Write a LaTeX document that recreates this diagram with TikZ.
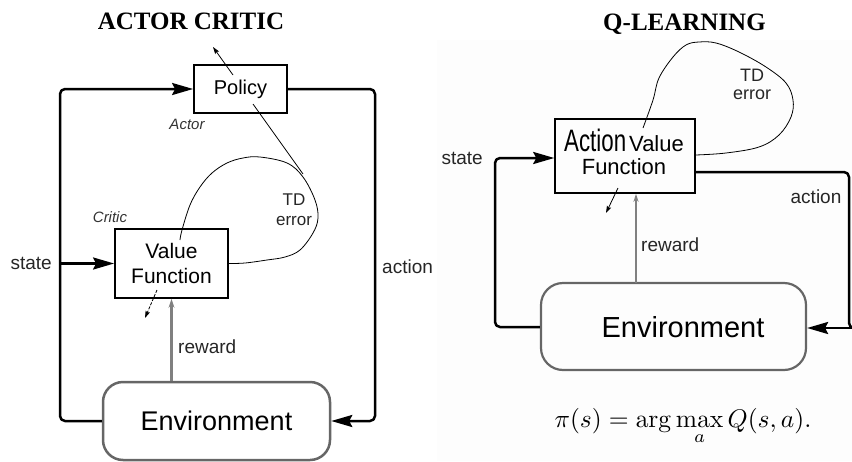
\documentclass[tikz,border=0pt]{standalone}
\usepackage[no-math]{fontspec}
\setmainfont{Liberation Sans}
\newfontfamily\titlefont{Liberation Serif}
\usepackage{graphicx}
\usetikzlibrary{arrows.meta}

\begin{document}
\begin{tikzpicture}[x=1pt,y=-1pt,
  bigtip/.tip={Stealth[length=21pt,width=12pt,inset=3pt]},
  smalltip/.tip={Stealth[length=7pt,width=4.5pt,inset=1pt]},
  loopline/.style={line width=2.5pt, line join=round, rounded corners=5pt},
  box/.style={draw, line width=1.8pt, inner sep=0pt, align=center},
  envbox/.style={draw=black!60, line width=2.5pt, rounded corners=20pt, inner sep=0pt},
  thinline/.style={line width=0.8pt},
  rewardline/.style={draw=black!50},
  lbl/.style={font=\fontsize{19}{19}\selectfont, text=black!85, inner sep=0pt},
  tdlbl/.style={align=center, inner sep=0pt, text=black!85},
  role/.style={font=\fontsize{15}{15}\selectfont\itshape, text=black!80, inner sep=0pt},
  heading/.style={font=\titlefont\bfseries\fontsize{25}{25}\selectfont, anchor=base, inner sep=0pt}
]
\useasboundingbox (0,0) rectangle (852,461);
% faint backdrop of the right panel
\fill[black!0.8] (437,40) rectangle (852,461);

% ---------------- Actor-critic ----------------
\node[heading] (tAC) at (191,29) {ACTOR CRITIC};

\node[box, minimum width=93pt, minimum height=48pt,
      font=\fontsize{20}{20}\selectfont] (policy) at (240.5,89) {Policy};
\node[box, minimum width=113pt, minimum height=69pt,
      font=\fontsize{21}{25}\selectfont] (vf) at (171.5,263.5) {Value\\Function};
\node[envbox, minimum width=227pt, minimum height=78pt,
      font=\fontsize{27}{27}\selectfont] (envL) at (216.5,421) {Environment};

\node[role] (actor) at (187,124) {Actor};
\node[role] (critic) at (110,217) {Critic};

\coordinate (lt) at (60,89);
\coordinate (lb) at (60,421);
\coordinate (ls) at (60,263.5);
\coordinate (rt) at (375,89);
\coordinate (rb) at (375,421);

% outer loop: environment -> policy -> environment
\draw[loopline, -bigtip] (envL.west) -- (lb) -- (lt) -- (policy.west);
\draw[loopline, -bigtip] (policy.east) -- (rt) -- (rb) -- (envL.east);
\draw[line width=2.5pt, -bigtip] (ls) -- (vf.west);

\node[lbl, anchor=east] (stateL) at (52,263) {state};
\node[lbl, anchor=west] (actionL) at (382,267) {action};

% reward from the environment to the critic
\draw[rewardline, line width=2.8pt, -{Stealth[length=9pt,width=6pt]}]
  (envL.north -| vf.south) -- (vf.south);
\node[lbl, anchor=west] (rewardL) at (178,347) {reward};

% TD error loop of the critic
\draw[thinline] plot[smooth, tension=0.6] coordinates {
  (180,240) (182,230) (190,205) (200,187) (212,173) (227,163) (243,158)
  (260,157) (287,163) (303,177) (315,200) (318,218) (313,233) (300,250)
  (285,257) (267,260) (245,263) (vf.east)};
\coordinate (tdLp) at (303,174);
\coordinate (polIn) at (253,104);
\draw[thinline] (tdLp) -- (polIn);
\node[tdlbl, font=\fontsize{17}{20}\selectfont] (tdL) at (294,210) {TD\\error};

% adjustment arrows leaving the actor and the critic
\coordinate (polOut) at (213,47);
\coordinate (polSrc) at (233,75);
\draw[thinline, -smalltip] (polSrc) -- (polOut);
\coordinate (vfSrc) at (157,290);
\coordinate (vfOut) at (145,318);
\draw[thinline, dash pattern=on 3pt off 1.5pt, -smalltip] (vfSrc) -- (vfOut);

% ---------------- Q-learning ----------------
\node[heading] (tQL) at (684.5,30) {Q-LEARNING};

\node[box, line width=1.5pt, minimum width=140pt, minimum height=74pt] (avf) at (625,156) {};
\node[inner sep=0pt, anchor=base] (avfL1) at (624,151)
  {\scalebox{0.72}[1]{\fontsize{31}{31}\selectfont Action}\hspace{3pt}{\fontsize{22}{22}\selectfont Value}};
\node[inner sep=0pt, anchor=base, font=\fontsize{22}{22}\selectfont] (avfL2) at (624,174) {Function};

\node[envbox, line width=2.2pt, rounded corners=22pt, minimum width=265pt, minimum height=87pt] (envR) at (673.5,326.5) {};
\node[inner sep=0pt, font=\fontsize{29}{29}\selectfont] (envRtext) at (683,327) {Environment};

\coordinate (sq) at (495,158);
\coordinate (sb) at (495,327);
\coordinate (at) at (858,172);
\coordinate (ab) at (858,328);
\coordinate (atc) at (849,172);
\coordinate (abc) at (849,328);

\draw[loopline, -bigtip] (envR.west |- sb) -- (sb) -- (sq) -- (sq -| avf.west);
\draw[loopline] (avf.east |- at) -- (atc) -- (abc) -- (ab);
\draw[line width=2.5pt, -bigtip] (ab) -- (ab -| envR.east);

\node[lbl, anchor=east] (stateR) at (483,158) {state};
\node[lbl] (actionR) at (816,197) {action};

\coordinate (rwR) at (636,283);
\draw[rewardline, line width=1.5pt, -{Stealth[length=8pt,width=5pt]}] (rwR) -- (rwR |- avf.south);
\node[lbl, anchor=west] (rewardR) at (641,245) {reward};

% TD error loop of the action-value function
\draw[thinline] plot[smooth, tension=0.6] coordinates {
  (643,128) (653,100) (659,78) (673,57) (686,45) (699,42) (716,43)
  (739,52) (766,67) (786,83) (793,100) (791,117) (779,135) (759,147)
  (726,153) (avf.east |- 0,155)};
\node[tdlbl, font=\fontsize{18}{18}\selectfont] (tdR) at (752,84) {TD\\error};

\coordinate (avfSrc) at (618,188);
\coordinate (avfOut) at (606,213);
\draw[thinline, -smalltip] (avfSrc) -- (avfOut);

% greedy policy read off the action values
\node[anchor=base, inner sep=0pt] (greedy) at (683,427)
  {\scalebox{2.55}{$\displaystyle \pi(s) = \arg\max_a Q(s,a).$}};
\end{tikzpicture}
\end{document}
